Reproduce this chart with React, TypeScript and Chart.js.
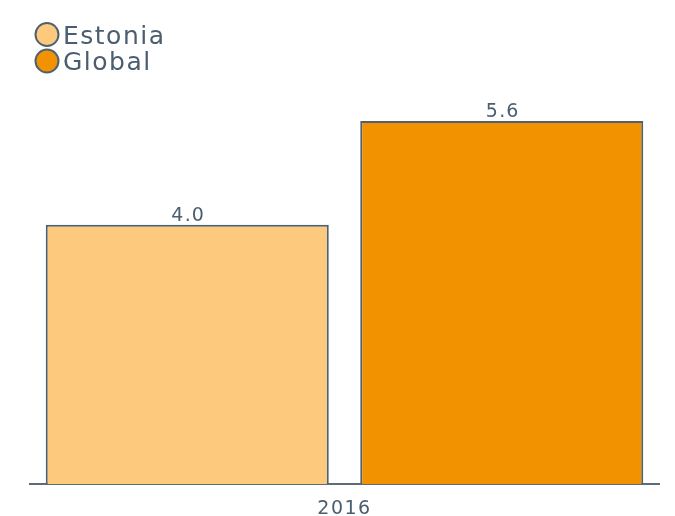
import { useEffect, useRef } from 'react';
import { Chart, registerables } from 'chart.js';

Chart.register(...registerables);

const categories = ['2016'];
const estoniaValues = [4.0];
const globalValues = [5.6];
const seriesNames = ['Estonia', 'Global'];
const seriesColors = ['#fdc97c', '#f39200'];

const TEXT = '#4b5e70';
const EDGE = '#4e6173';
const FONT = '"DejaVu Sans", sans-serif';

// spacing for the axis label text (Chart.js has no option for it)
const spacedTicks = {
    id: 'spacedTicks',
    beforeDraw(chart: any) {
        (chart.ctx as any).letterSpacing = '1.5px';
    },
};

const valueLabels = {
    id: 'valueLabels',
    afterDatasetsDraw(chart: any) {
        const ctx = chart.ctx;
        ctx.save();
        ctx.font = `19px ${FONT}`;
        ctx.fillStyle = TEXT;
        ctx.textAlign = 'center';
        ctx.textBaseline = 'alphabetic';
        (ctx as any).letterSpacing = '1.2px';
        chart.data.datasets.forEach((ds: any, i: number) => {
            chart.getDatasetMeta(i).data.forEach((el: any, j: number) => {
                ctx.fillText(Number(ds.data[j]).toFixed(1), el.x + 1, el.y - 4);
            });
        });
        ctx.restore();
    },
};

const stackedLegend = {
    id: 'stackedLegend',
    afterDraw(chart: any) {
        const ctx = chart.ctx;
        ctx.save();
        ctx.font = `25px ${FONT}`;
        ctx.textBaseline = 'alphabetic';
        ctx.textAlign = 'left';
        (ctx as any).letterSpacing = '1.5px';
        chart.data.datasets.forEach((ds: any, i: number) => {
            const y = 34.5 + i * 26.5;
            ctx.beginPath();
            ctx.arc(47, y, 11.5, 0, Math.PI * 2);
            ctx.fillStyle = ds.backgroundColor;
            ctx.fill();
            ctx.lineWidth = 2;
            ctx.strokeStyle = EDGE;
            ctx.stroke();
            ctx.fillStyle = TEXT;
            ctx.fillText(ds.label, 63, y + 9);
        });
        ctx.restore();
    },
};

export default function App() {
    const chartRef = useRef<Chart | null>(null);
    const canvasRef = useRef<HTMLCanvasElement>(null);

    useEffect(() => {
        if (chartRef.current) {
            chartRef.current.destroy();
        }
        if (canvasRef.current) {
            chartRef.current = new Chart(canvasRef.current, {
                type: 'bar',
                data: {
                    labels: categories,
                    datasets: [
                        {
                            label: seriesNames[0],
                            data: estoniaValues,
                            backgroundColor: seriesColors[0],
                            borderColor: EDGE,
                            borderWidth: 2,
                        },
                        {
                            label: seriesNames[1],
                            data: globalValues,
                            backgroundColor: seriesColors[1],
                            borderColor: EDGE,
                            borderWidth: 2,
                        },
                    ],
                },
                options: {
                    animation: false,
                    responsive: true,
                    maintainAspectRatio: false,
                    datasets: {
                        bar: { categoryPercentage: 1.0, barPercentage: 0.9 },
                    },
                    layout: {
                        padding: { left: 30, right: 16, top: 95, bottom: -19 },
                    },
                    plugins: {
                        legend: { display: false },
                        tooltip: { enabled: false },
                    },
                    scales: {
                        x: {
                            grid: { display: false, drawTicks: false },
                            border: { display: true, color: '#5b6c7c', width: 2 },
                            ticks: {
                                color: TEXT,
                                font: { family: FONT, size: 19, lineHeight: 1 },
                                padding: 16,
                            },
                        },
                        y: {
                            display: false,
                            min: 0,
                            max: 6,
                        },
                    },
                },
                plugins: [spacedTicks, valueLabels, stackedLegend],
            });
        }
        return () => {
            if (chartRef.current) {
                chartRef.current.destroy();
            }
        };
    }, []);

    return (
        <div style={{ position: 'fixed', left: 0, top: 0, width: 675, height: 516, background: '#fff' }}>
            <canvas ref={canvasRef}></canvas>
        </div>
    );
}
